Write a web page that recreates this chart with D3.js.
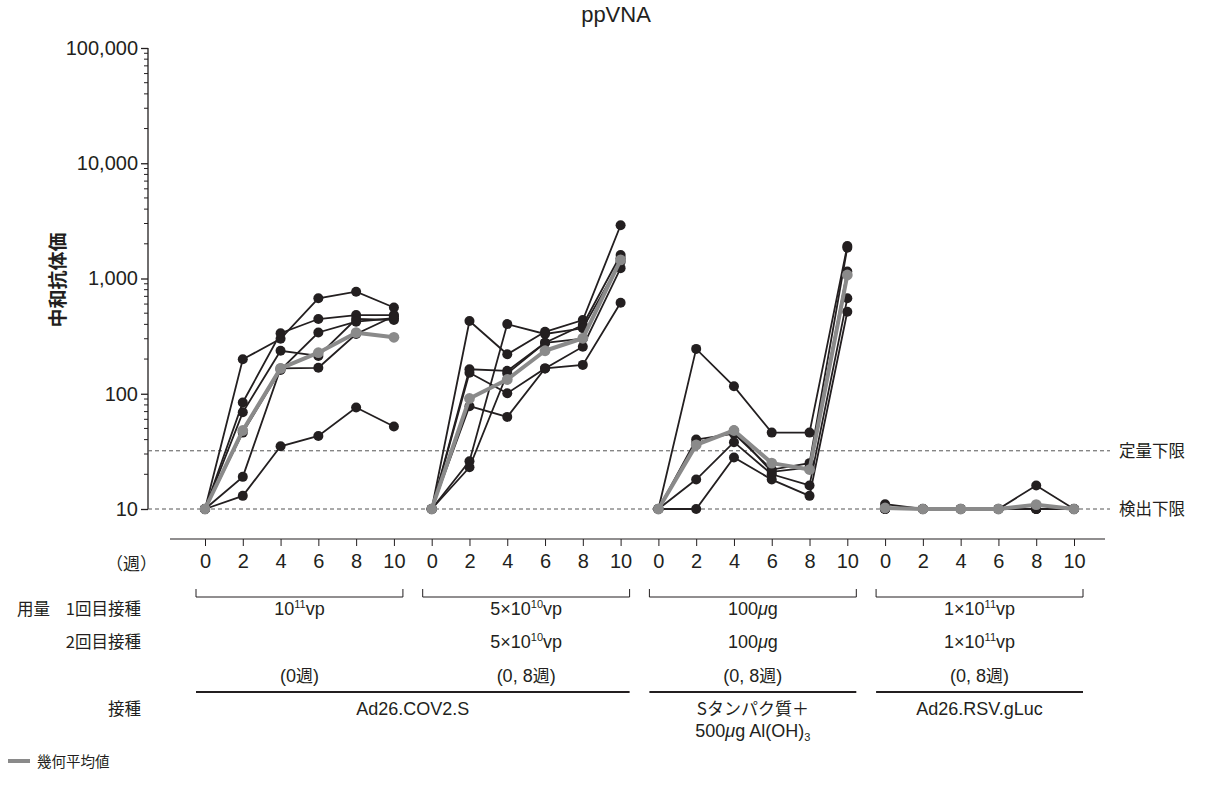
<!DOCTYPE html>
<html lang="ja">
<head>
<meta charset="utf-8">
<script src="https://cdn.jsdelivr.net/npm/d3@7/dist/d3.min.js"></script>
<style>
  html, body { margin: 0; padding: 0; background: #fff; }
  svg { display: block; }
  text { font-family: "Liberation Sans", Arial, Helvetica, "Noto Sans CJK JP", sans-serif; fill: #231f20; }
  .jp { font-family: "Noto Sans CJK JP", "Liberation Sans", sans-serif; }
</style>
</head>
<body>
<svg id="chart" width="1210" height="785"></svg>
<script>
// Sampling weeks shown for every regimen
const weeks = [0, 2, 4, 6, 8, 10];

// Individual neutralizing titers (ppVNA), one row per animal
const ad26Single = [
  [10, 199, 300, 673, 768, 560],
  [10, 84, 335, 445, 482, 482],
  [10, 69, 236, 213, 445, 437],
  [10, 46, 161, 340, 422, 452],
  [10, 19, 166, 168, 330, 470],
  [10, 13, 35, 43, 76, 52]
];
const ad26TwoDose = [
  [10, 428, 220, 345, 436, 2900],
  [10, 163, 158, 277, 395, 1600],
  [10, 152, 101, 166, 178, 617],
  [10, 78, 63, 166, 256, 1230],
  [10, 26, 402, 330, 370, 1400],
  [10, 23, 150, 277, 300, 1500]
];
const sProteinAlum = [
  [10, 245, 116, 46, 46, 1914],
  [10, 40, 45, 22, 25, 1850],
  [10, 18, 38, 20, 16, 673],
  [10, 10, 28, 18, 13, 515],
  [10, 37, 48, 21, 23, 1150]
];
const ad26RsvControl = [
  [11, 10, 10, 10, 16, 10],
  [10, 10, 10, 10, 10, 10],
  [10, 10, 10, 10, 10, 10],
  [10, 10, 10, 10, 10, 10],
  [10, 10, 10, 10, 10, 10]
];

// Geometric mean titers per regimen
const gmtAd26Single = [10, 48, 166, 227, 339, 309];
const gmtAd26TwoDose = [10, 91, 133, 236, 303, 1450];
const gmtSProteinAlum = [10, 36, 48, 25, 22, 1072];
const gmtAd26RsvControl = [10.2, 10, 10, 10, 10.9, 10];

// Assay limits
const limitOfQuantification = 32;
const limitOfDetection = 10;

// Y axis tick labels
const yTicks = [10, 100, 1000, 10000, 100000];

// Table rows under the axis
const dose1Labels = [["10", "11", "vp"], ["5×10", "10", "vp"], ["100", "μ", "g"], ["1×10", "11", "vp"]];
const dose2Labels = [null, ["5×10", "10", "vp"], ["100", "μ", "g"], ["1×10", "11", "vp"]];
const scheduleLabels = ["(0週)", "(0, 8週)", "(0, 8週)", "(0, 8週)"];
const vaccineSpans = [[0, 1], [2, 2], [3, 3]];
const vaccineNames = ["Ad26.COV2.S", "Sタンパク質＋", "Ad26.RSV.gLuc"];

const groupSubjects = [ad26Single, ad26TwoDose, sProteinAlum, ad26RsvControl];
const groupGmt = [gmtAd26Single, gmtAd26TwoDose, gmtSProteinAlum, gmtAd26RsvControl];

const svg = d3.select("#chart");
const ink = "#231f20";
const grey = "#8a8a8a";
const latin = '"Liberation Sans", Arial, Helvetica, sans-serif';

const slots = [];
groupSubjects.forEach((_, g) => weeks.forEach(w => slots.push(g + "-" + w)));

const x = d3.scalePoint().domain(slots).range([205, 1074]);
const y = d3.scaleLog().domain([10, 100000]).range([509, 48]);

const axisX = 148;
const baseY = 539;

// Title
svg.append("text").attr("x", 616).attr("y", 22).attr("text-anchor", "middle")
  .attr("font-size", 22).text("ppVNA");

// Y axis title
svg.append("text").attr("class", "jp")
  .attr("transform", "translate(65,280) rotate(-90)")
  .attr("text-anchor", "middle").attr("font-size", 19).attr("font-weight", 700)
  .text("中和抗体価");

// Y axis with major ticks
const yAxis = d3.axisLeft(y).tickValues(yTicks).tickFormat(d3.format(",")).tickSize(7).tickPadding(3);
const gy = svg.append("g").attr("transform", `translate(${axisX},0)`).call(yAxis);
gy.select(".domain").attr("stroke", ink).attr("stroke-width", 1.3).attr("d", `M0,${y(100000)}V${y(10)}`);
gy.selectAll(".tick line").attr("stroke", ink).attr("stroke-width", 1.3);
gy.selectAll(".tick text").attr("font-size", 20).attr("fill", ink).style("font-family", latin);

// Minor ticks inside each decade
const minor = [];
[10, 100, 1000, 10000].forEach(d => { for (let k = 2; k <= 9; k++) minor.push(d * k); });
svg.append("g").selectAll("line").data(minor).join("line")
  .attr("x1", axisX - 4).attr("x2", axisX)
  .attr("y1", d => y(d)).attr("y2", d => y(d))
  .attr("stroke", ink).attr("stroke-width", 1);

// Limit lines
const limits = [[limitOfQuantification, "定量下限"], [limitOfDetection, "検出下限"]];
limits.forEach(([v, label]) => {
  svg.append("line").attr("x1", axisX).attr("x2", 1110)
    .attr("y1", y(v)).attr("y2", y(v))
    .attr("stroke", "#555").attr("stroke-width", 1).attr("stroke-dasharray", "4,3");
  svg.append("text").attr("class", "jp").attr("x", 1119).attr("y", y(v) + 6)
    .attr("font-size", 16.5).text(label);
});

// X axis: one tick per sampling week of each regimen
svg.append("line").attr("x1", 170).attr("x2", 1105).attr("y1", baseY).attr("y2", baseY)
  .attr("stroke", ink).attr("stroke-width", 1.2);
const xAxis = d3.axisBottom(x).tickSize(7).tickPadding(8).tickFormat(d => d.split("-")[1]);
const gx = svg.append("g").attr("transform", `translate(0,${baseY})`).call(xAxis);
gx.select(".domain").remove();
gx.selectAll(".tick line").attr("stroke", ink).attr("stroke-width", 1);
gx.selectAll(".tick text").attr("font-size", 20).attr("fill", ink).style("font-family", latin);

svg.append("text").attr("class", "jp").attr("x", 157).attr("y", 570).attr("text-anchor", "end")
  .attr("font-size", 17).text("（週）");

// Line generator in log-titer space
const line = d3.line().x(d => x(d.key)).y(d => y(d.v));
const toPoints = (g, vals) => vals.map((v, i) => ({ key: g + "-" + weeks[i], v }));

const plot = svg.append("g");
groupSubjects.forEach((subjects, g) => {
  subjects.forEach(vals => {
    const pts = toPoints(g, vals);
    plot.append("path").attr("d", line(pts)).attr("fill", "none")
      .attr("stroke", ink).attr("stroke-width", 1.8);
    plot.append("g").selectAll("circle").data(pts).join("circle")
      .attr("cx", d => x(d.key)).attr("cy", d => y(d.v)).attr("r", 5).attr("fill", ink);
  });
});
groupGmt.forEach((vals, g) => {
  const pts = toPoints(g, vals);
  plot.append("path").attr("d", line(pts)).attr("fill", "none")
    .attr("stroke", grey).attr("stroke-width", 4).attr("stroke-linejoin", "round");
  plot.append("g").selectAll("circle").data(pts).join("circle")
    .attr("cx", d => x(d.key)).attr("cy", d => y(d.v)).attr("r", 5.4).attr("fill", grey);
});

// Regimen table below the axis
const gFirst = g => x(g + "-0");
const gLast = g => x(g + "-10");
const gMid = g => (gFirst(g) + gLast(g)) / 2;

const table = svg.append("g");
// brackets grouping the six weeks of each regimen
groupSubjects.forEach((_, g) => {
  const x0 = gFirst(g) - 9, x1 = gLast(g) + 9, by = 597;
  table.append("path").attr("d", `M${x0},${by - 8}V${by}H${x1}V${by - 8}`)
    .attr("fill", "none").attr("stroke", ink).attr("stroke-width", 1);
});

function doseText(parent, xc, yb, parts) {
  const t = parent.append("text").attr("x", xc).attr("y", yb).attr("text-anchor", "middle").attr("font-size", 18);
  if (parts[1] === "μ") {
    t.append("tspan").text(parts[0]);
    t.append("tspan").attr("font-style", "italic").text(parts[1]);
    t.append("tspan").text(parts[2]);
  } else {
    t.append("tspan").text(parts[0]);
    t.append("tspan").attr("font-size", 11).attr("dy", -7).text(parts[1]);
    t.append("tspan").attr("dy", 7).text(parts[2]);
  }
}

const row1Y = 615, row2Y = 648, row3Y = 682, row4Y = 715;
table.append("text").attr("class", "jp").attr("x", 17).attr("y", row1Y).attr("font-size", 16.5).text("用量");
table.append("text").attr("class", "jp").attr("x", 141).attr("y", row1Y).attr("text-anchor", "end").attr("font-size", 16.5).text("1回目接種");
table.append("text").attr("class", "jp").attr("x", 141).attr("y", row2Y).attr("text-anchor", "end").attr("font-size", 16.5).text("2回目接種");
table.append("text").attr("class", "jp").attr("x", 141).attr("y", row4Y).attr("text-anchor", "end").attr("font-size", 16.5).text("接種");

dose1Labels.forEach((p, g) => doseText(table, gMid(g), row1Y, p));
dose2Labels.forEach((p, g) => { if (p) doseText(table, gMid(g), row2Y, p); });
scheduleLabels.forEach((s, g) => {
  const t = table.append("text").attr("x", gMid(g)).attr("y", row3Y)
    .attr("text-anchor", "middle").attr("font-size", 18);
  t.append("tspan").text(s.slice(0, -2));
  t.append("tspan").attr("class", "jp").attr("font-size", 17).text("週");
  t.append("tspan").text(")");
});

vaccineSpans.forEach(([a, b], i) => {
  const x0 = gFirst(a) - 9, x1 = gLast(b) + 9;
  table.append("line").attr("x1", x0).attr("x2", x1).attr("y1", 692).attr("y2", 692)
    .attr("stroke", ink).attr("stroke-width", 2);
  const t = table.append("text").attr("x", (x0 + x1) / 2).attr("y", row4Y)
    .attr("text-anchor", "middle").attr("font-size", 18).text(vaccineNames[i]);
  if (i === 1) t.attr("class", "jp").attr("font-size", 17);
});
// adjuvant line under the protein regimen
const adj = table.append("text").attr("x", gMid(2)).attr("y", 737).attr("text-anchor", "middle").attr("font-size", 18);
adj.append("tspan").text("500");
adj.append("tspan").attr("font-style", "italic").text("μ");
adj.append("tspan").text("g Al(OH)");
adj.append("tspan").attr("font-size", 11).attr("dy", 4).text("3");

// Legend
svg.append("line").attr("x1", 8).attr("x2", 30).attr("y1", 761).attr("y2", 761)
  .attr("stroke", grey).attr("stroke-width", 4);
svg.append("text").attr("class", "jp").attr("x", 37).attr("y", 767).attr("font-size", 14.5).text("幾何平均値");
</script>
</body>
</html>
